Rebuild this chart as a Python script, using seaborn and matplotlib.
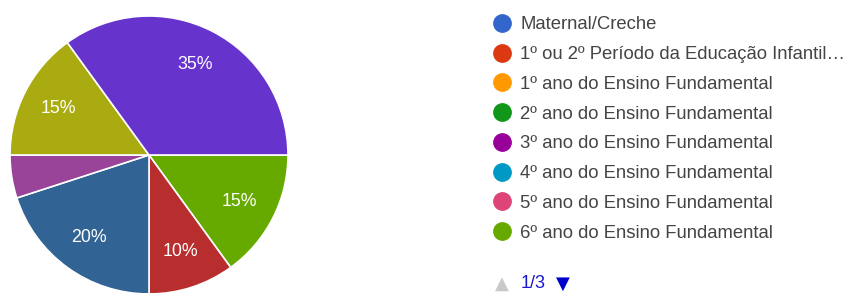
import matplotlib
matplotlib.use('Agg')
import matplotlib.pyplot as plt
import seaborn as sns
from matplotlib.lines import Line2D

sns.set_theme(style='white')
plt.rcParams['font.family'] = ['Liberation Sans', 'DejaVu Sans']

# slices, clockwise from 3 o'clock
slice_values = [15, 10, 20, 5, 15, 35]
slice_colors = ['#66aa00', '#b82e2e', '#316395', '#994499', '#aaaa11', '#6633cc']

# legend page 1/3
legend_labels = ['Maternal/Creche',
                 '1º ou 2º Período da Educação Infantil…',
                 '1º ano do Ensino Fundamental',
                 '2º ano do Ensino Fundamental',
                 '3º ano do Ensino Fundamental',
                 '4º ano do Ensino Fundamental',
                 '5º ano do Ensino Fundamental',
                 '6º ano do Ensino Fundamental']
legend_colors = ['#3366cc', '#dc3912', '#ff9900', '#109618',
                 '#990099', '#0099c6', '#dd4477', '#66aa00']
page_text = '1/3'

W, H = 848, 293
fig = plt.figure(figsize=(W / 100, H / 100), dpi=100)

# pie axes: centre (149,155) px, radius 139 px
r = 139
ax = fig.add_axes([(149 - r) / W, (H - 155 - r) / H, 2 * r / W, 2 * r / H])
wedges, texts, autotexts = ax.pie(
    slice_values, colors=slice_colors, startangle=0, counterclock=False,
    autopct=lambda p: f'{p:.0f}%' if p >= 7 else '', pctdistance=0.73, radius=1,
    wedgeprops=dict(edgecolor='white', linewidth=1.2),
    textprops=dict(color='white', fontsize=12.8))
ax.set_xlim(-1, 1)
ax.set_ylim(-1, 1)
ax.axis('off')

handles = [Line2D([], [], marker='o', linestyle='none', markersize=12.5,
                  markerfacecolor=c, markeredgecolor=c) for c in legend_colors]
leg = fig.legend(handles, legend_labels, loc='upper left',
                 bbox_to_anchor=(485 / W, 1 - 9 / H), frameon=False,
                 fontsize=13.3, labelspacing=0.69, handletextpad=0.45,
                 handlelength=1.05, borderaxespad=0)
for t in leg.get_texts():
    t.set_color('#444444')

# pager
fig.text(502 / W, 1 - 284 / H, '▲', color='#c8c8c8', fontsize=13,
         ha='center', va='center', family=['DejaVu Sans'])
fig.text(521 / W, 1 - 284 / H, page_text, color='#1a1acc', fontsize=13,
         ha='left', va='center')
fig.text(563 / W, 1 - 284 / H, '▼', color='#0000cc', fontsize=13,
         ha='center', va='center', family=['DejaVu Sans'])

fig.savefig('out.png', dpi=100, facecolor='white')
